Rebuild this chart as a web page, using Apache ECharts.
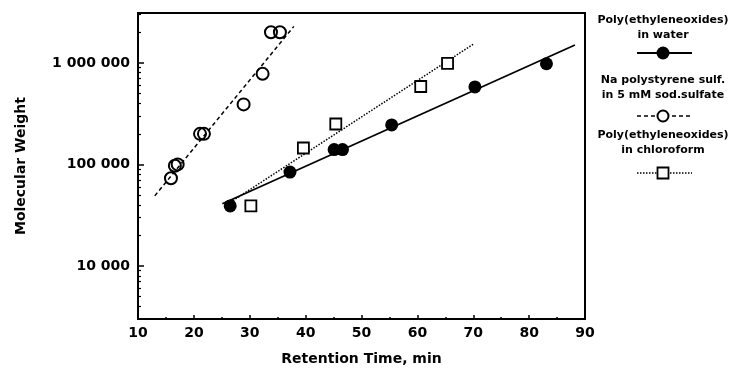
<!DOCTYPE html>
<html>
<head>
<meta charset="utf-8">
<script src="https://cdn.jsdelivr.net/npm/echarts@6/dist/echarts.min.js"></script>
<style>
html,body{margin:0;padding:0;background:#fff;}
#chart{width:733px;height:371px;}
</style>
</head>
<body>
<div id="chart"></div>
<script>
// ---- data ----
var waterX = [26.5, 37.2, 45.1, 46.6, 55.4, 70.3, 83.1];
var waterY = [39000, 84000, 140000, 140000, 245000, 580000, 980000];
var pssX = [15.9, 16.6, 17.1, 21.1, 21.8, 28.9, 32.3, 33.8, 35.4];
var pssY = [73000, 97000, 100000, 200000, 200000, 390000, 780000, 2000000, 2000000];
var chlX = [30.2, 39.6, 45.4, 60.6, 65.4];
var chlY = [39000, 145000, 250000, 585000, 990000];
var waterFitX = [25.1, 88.2];
var waterFitY = [41000, 1500000];
var pssFitX = [13.0, 37.9];
var pssFitY = [49000, 2290000];
var chlFitX = [27.0, 70.1];
var chlFitY = [44000, 1540000];
var xTicks = [10, 20, 30, 40, 50, 60, 70, 80, 90];
var yMajor = [10000, 100000, 1000000];
var yMajorLabels = ['10 000', '100 000', '1 000 000'];
var yMinor = [4000,5000,6000,7000,8000,9000,20000,30000,40000,50000,60000,70000,80000,90000,
              200000,300000,400000,500000,600000,700000,800000,900000,2000000,3000000];
var legendNames = [['Poly(ethyleneoxides)', 'in water'],
                   ['Na polystyrene sulf.', 'in 5 mM sod.sulfate'],
                   ['Poly(ethyleneoxides)', 'in chloroform']];

function zip(a, b){ return a.map(function(v,i){ return [v, b[i]]; }); }

var FONT = 'DejaVu Sans';
var chart = echarts.init(document.getElementById('chart'), null, {renderer:'canvas'});

var legendCx = 663;
var legendRows = [20, 80, 135];
var legendSym = [53, 116, 173];
var graphics = [];
legendNames.forEach(function(n, i){
  graphics.push({type:'text', style:{text:n[0], x:legendCx, y:legendRows[i], fill:'#000',
     font:'bold 11px "DejaVu Sans"', textAlign:'center', textVerticalAlign:'middle'}});
  graphics.push({type:'text', style:{text:n[1], x:legendCx, y:legendRows[i]+15, fill:'#000',
     font:'bold 11px "DejaVu Sans"', textAlign:'center', textVerticalAlign:'middle'}});
});
graphics.push({type:'line', shape:{x1:637,y1:legendSym[0],x2:692,y2:legendSym[0]}, style:{stroke:'#000', lineWidth:1.8}});
graphics.push({type:'circle', shape:{cx:legendCx,cy:legendSym[0],r:6.5}, style:{fill:'#000'}});
graphics.push({type:'line', shape:{x1:637,y1:legendSym[1],x2:692,y2:legendSym[1]}, style:{stroke:'#000', lineWidth:1.5, lineDash:[4,3]}});
graphics.push({type:'circle', shape:{cx:legendCx,cy:legendSym[1],r:5.5}, style:{fill:'#fff', stroke:'#000', lineWidth:2}});
graphics.push({type:'line', shape:{x1:637,y1:legendSym[2],x2:692,y2:legendSym[2]}, style:{stroke:'#000', lineWidth:1.5, lineDash:[1.5,1.5]}});
graphics.push({type:'rect', shape:{x:legendCx-5.5,y:legendSym[2]-5.5,width:11,height:11}, style:{fill:'#fff', stroke:'#000', lineWidth:1.8}});

var option = {
  animation:false,
  backgroundColor:'#fff',
  grid:{left:138, right:148, top:13, bottom:51, show:true, borderColor:'#000', borderWidth:2, containLabel:false},
  xAxis:{
    type:'value', min:10, max:90, interval:10,
    name:'Retention Time, min', nameLocation:'middle', nameGap:33,
    nameTextStyle:{fontFamily:FONT, fontWeight:'bold', fontSize:14, color:'#000'},
    axisLine:{lineStyle:{color:'#000', width:2}},
    axisTick:{inside:true, length:4, lineStyle:{color:'#000', width:1.5}},
    minorTick:{show:true, splitNumber:2, length:2, lineStyle:{color:'#000', width:1.5}},
    splitLine:{show:false},
    axisLabel:{fontFamily:FONT, fontWeight:'bold', fontSize:14, color:'#000', margin:7,
      customValues: xTicks}
  },
  yAxis:[{
    type:'log', logBase:10, min:3000, max:3100000,
    name:'Molecular Weight', nameLocation:'middle', nameGap:110, nameRotate:90,
    nameTextStyle:{fontFamily:FONT, fontWeight:'bold', fontSize:14, color:'#000'},
    axisLine:{lineStyle:{color:'#000', width:2}},
    axisTick:{inside:true, length:6, lineStyle:{color:'#000', width:1.5}, customValues:yMajor},
    splitLine:{show:false},
    axisLabel:{fontFamily:FONT, fontWeight:'bold', fontSize:14, color:'#000', margin:8,
      customValues:yMajor,
      formatter:function(v){ var i = yMajor.indexOf(Math.round(v)); return i>=0 ? yMajorLabels[i] : ''; }}
  },{
    type:'log', logBase:10, min:3000, max:3100000, position:'left',
    axisLine:{show:false},
    axisTick:{inside:true, length:3, lineStyle:{color:'#000', width:1.2}, customValues:yMinor},
    axisLabel:{show:false},
    splitLine:{show:false}
  }],
  graphic:graphics,
  series:[
    {type:'line', data:zip(waterFitX, waterFitY), showSymbol:false, lineStyle:{color:'#000', width:1.8}, z:2},
    {type:'line', data:zip(pssFitX, pssFitY), showSymbol:false, lineStyle:{color:'#000', width:1.5, type:[4,3]}, z:2},
    {type:'line', data:zip(chlFitX, chlFitY), showSymbol:false, lineStyle:{color:'#000', width:1.5, type:[1.5,1.5]}, z:2},
    {type:'scatter', data:zip(waterX, waterY), symbol:'circle', symbolSize:13, itemStyle:{color:'#000', opacity:1}, z:3},
    {type:'scatter', data:zip(pssX, pssY), symbol:'circle', symbolSize:12, itemStyle:{color:'rgba(0,0,0,0)', borderColor:'#000', borderWidth:2, opacity:1}, z:3},
    {type:'scatter', data:zip(chlX, chlY), symbol:'rect', symbolSize:11, itemStyle:{color:'#fff', borderColor:'#000', borderWidth:1.8, opacity:1}, z:3}
  ]
};
chart.setOption(option);
</script>
</body>
</html>
